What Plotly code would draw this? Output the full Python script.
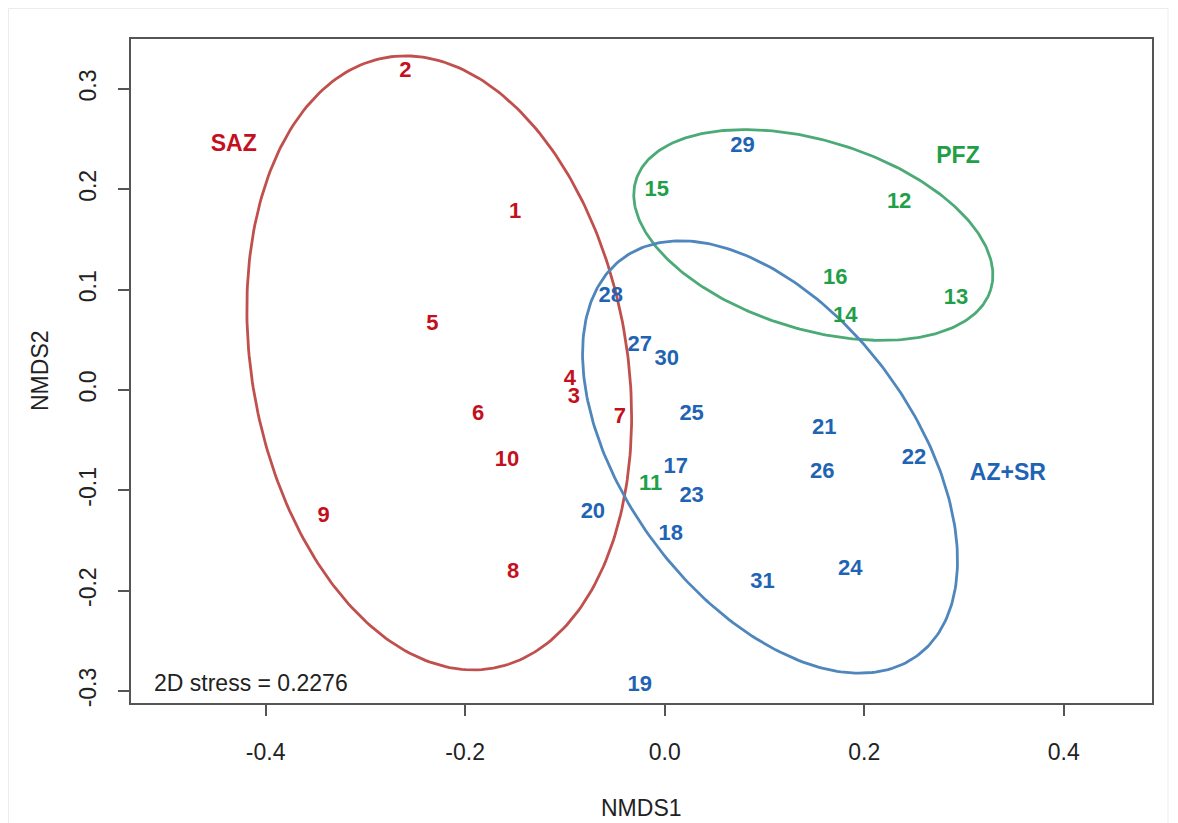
import numpy as np
import plotly.graph_objects as go

# ---------------- data ----------------
saz_labels = ["1", "2", "3", "4", "5", "6", "7", "8", "9", "10"]
saz_x = [-0.150, -0.260, -0.091, -0.095, -0.233, -0.187, -0.045, -0.152, -0.342, -0.158]
saz_y = [0.177, 0.317, -0.008, 0.010, 0.065, -0.024, -0.027, -0.182, -0.126, -0.070]

pfz_labels = ["11", "12", "13", "14", "15", "16"]
pfz_x = [-0.014, 0.235, 0.292, 0.181, -0.008, 0.171]
pfz_y = [-0.094, 0.187, 0.091, 0.073, 0.199, 0.111]

azsr_labels = ["17", "18", "19", "20", "21", "22", "23", "24", "25", "26",
               "27", "28", "29", "30", "31"]
azsr_x = [0.011, 0.006, -0.025, -0.072, 0.160, 0.250, 0.027, 0.186, 0.027, 0.158,
          -0.025, -0.054, 0.078, 0.002, 0.098]
azsr_y = [-0.077, -0.144, -0.295, -0.122, -0.038, -0.068, -0.106, -0.179, -0.024, -0.082,
          0.044, 0.093, 0.243, 0.030, -0.192]

# group ellipses: centre x, centre y, semi-major, semi-minor, angle (deg)
ell_saz = [-0.226, 0.027, 0.309, 0.188, -79.9]
ell_pfz = [0.149, 0.1545, 0.186, 0.094, -17.0]
ell_azsr = [0.1056, -0.0668, 0.247, 0.144, -53.0]

group_names = ["SAZ", "PFZ", "AZ+SR"]
group_label_x = [-0.432, 0.294, 0.344]
group_label_y = [0.244, 0.232, -0.084]

x_ticks = [-0.4, -0.2, 0.0, 0.2, 0.4]
y_ticks = [-0.3, -0.2, -0.1, 0.0, 0.1, 0.2, 0.3]
stress_text = "2D stress = 0.2276"

# ---------------- styles ----------------
RED_TXT, GRN_TXT, BLU_TXT = "#C4101E", "#1FA048", "#1F64B4"
RED_ELL, GRN_ELL, BLU_ELL = "#C0504D", "#4BAA76", "#4F86BC"
FONT = "Liberation Sans, Arial, sans-serif"

W, H = 1170, 815
ML, MR, MT, MB = 123, 26, 31, 120
PW, PH = W - ML - MR, H - MT - MB


def ellipse(params, n=300):
    cx, cy, a, b, ang = params
    th = np.radians(ang)
    t = np.linspace(0, 2 * np.pi, n)
    x = cx + a * np.cos(th) * np.cos(t) - b * np.sin(th) * np.sin(t)
    y = cy + a * np.sin(th) * np.cos(t) + b * np.cos(th) * np.sin(t)
    return x, y


fig = go.Figure()

for params, col in [(ell_saz, RED_ELL), (ell_pfz, GRN_ELL), (ell_azsr, BLU_ELL)]:
    ex, ey = ellipse(params)
    fig.add_trace(go.Scatter(x=ex, y=ey, mode="lines",
                             line=dict(color=col, width=2.8),
                             hoverinfo="skip", showlegend=False))

for xs, ys, labs, col in [(saz_x, saz_y, saz_labels, RED_TXT),
                          (pfz_x, pfz_y, pfz_labels, GRN_TXT),
                          (azsr_x, azsr_y, azsr_labels, BLU_TXT)]:
    fig.add_trace(go.Scatter(x=xs, y=ys, text=labs, mode="text",
                             textposition="middle center",
                             textfont=dict(family=FONT, size=22, color=col, weight="bold"),
                             showlegend=False))

fig.add_trace(go.Scatter(x=group_label_x, y=group_label_y, text=group_names, mode="text",
                         textposition="middle center",
                         textfont=dict(family=FONT, size=23, color=[RED_TXT, GRN_TXT, BLU_TXT],
                                       weight="bold"),
                         showlegend=False))

fig.add_annotation(x=-0.514, y=-0.292, xref="x", yref="y", text=stress_text,
                   showarrow=False, xanchor="left", yanchor="middle",
                   font=dict(family=FONT, size=23, color="#222222"))

fig.add_annotation(x=0.5, y=0, xref="paper", yref="paper", text="NMDS1",
                   showarrow=False, xanchor="center", yanchor="middle", yshift=-105,
                   font=dict(family=FONT, size=23, color="#222222"))
fig.add_annotation(x=0, y=0.5, xref="paper", yref="paper", text="NMDS2",
                   showarrow=False, xanchor="center", yanchor="middle", xshift=-91,
                   textangle=-90, font=dict(family=FONT, size=23, color="#222222"))

# faint outer frame
fig.add_shape(type="rect", xref="paper", yref="paper",
              x0=(0.5 - ML) / PW, x1=(1160 - ML) / PW,
              y0=-(MB + 10) / PH, y1=1 + (MT - 0.5) / PH,
              line=dict(color="#ECECEC", width=1))

axis_common = dict(showgrid=False, zeroline=False, showline=True, mirror=True,
                   linecolor="#555555", linewidth=2, ticks="outside", ticklen=11,
                   tickcolor="#555555", tickwidth=1.5, automargin=False,
                   tickfont=dict(family=FONT, size=23, color="#222222"))

fig.update_layout(
    width=W, height=H,
    margin=dict(l=ML, r=MR, t=MT, b=MB),
    paper_bgcolor="white", plot_bgcolor="white",
    xaxis=dict(range=[-0.535, 0.4885], tickvals=x_ticks,
               ticktext=[f"{v:.1f}" for v in x_ticks], ticklabelstandoff=16,
               **axis_common),
    yaxis=dict(range=[-0.312, 0.3498], tickvals=y_ticks,
               ticktext=[f"{v:.1f}" for v in y_ticks], tickangle=-90,
               ticklabelstandoff=13, **axis_common),
)

fig.write_html("out.html")
